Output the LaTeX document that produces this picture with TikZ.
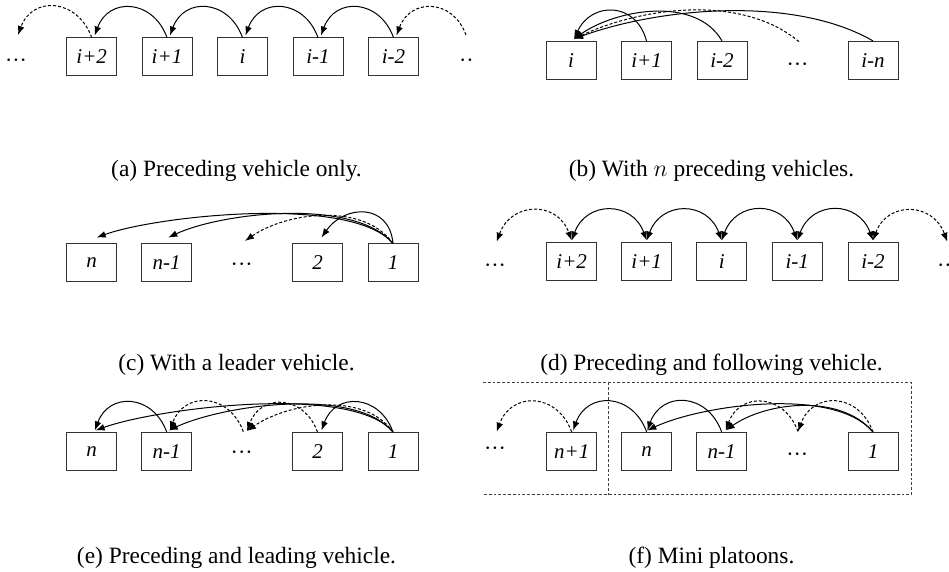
\documentclass[tikz,border=0pt]{standalone}
\usepackage{fontspec}
\setmainfont{Liberation Serif}
\usetikzlibrary{arrows.meta}
\newcommand{\midots}{\char"00B7\char"00B7\char"00B7}
\begin{document}
\begin{tikzpicture}[x=0.5pt,y=-0.5pt,
  veh/.style={draw=black!80, line width=0.5pt, minimum width=25pt, minimum height=19pt,
    inner sep=0pt, font=\fontsize{10.5}{12}\selectfont\itshape},
  gap/.style={anchor=base, inner sep=0pt, font=\fontsize{11}{12}\selectfont},
  subcap/.style={anchor=base, inner sep=0pt, font=\fontsize{11.7}{14}\selectfont},
  link/.style={line width=0.5pt, -{Latex[length=4.5pt,width=3.4pt]}},
  both/.style={line width=0.5pt, {Latex[length=4.5pt,width=3.4pt]}-{Latex[length=4.5pt,width=3.4pt]}},
  weak/.style={dash pattern=on 1.5pt off 1pt},
  hop/.style={out=110,in=70,looseness=1.45},
  hopr/.style={out=70,in=110,looseness=1.45},
  boxframe/.style={draw=black!75, line width=0.5pt, dash pattern=on 1.4pt off 1pt},
]
\useasboundingbox (0,0) rectangle (949,572);

% ---------- (a) preceding vehicle only ----------
\node[veh] (a1) at (91.7,57) {i+2};
\node[veh] (a2) at (167,57) {i+1};
\node[veh] (a3) at (242.5,57) {i};
\node[veh] (a4) at (318,57) {i-1};
\node[veh] (a5) at (393.5,57) {i-2};
\node[gap] (adl) at (16,68) {\midots};
\begin{scope}
  \clip (0,0) rectangle (475,120);
  \node[gap] (adr) at (470,68) {\midots};
\end{scope}
\coordinate (al) at (18,35);
\coordinate (ar) at (466,35);
\draw[link,weak] (a1.north) to[hop] (al);
\draw[link] (a2.north) to[hop] ([xshift=1.5pt,yshift=1pt]a1.north);
\draw[link] (a3.north) to[hop] ([xshift=1.5pt,yshift=1pt]a2.north);
\draw[link] (a4.north) to[hop] ([xshift=1.5pt,yshift=1pt]a3.north);
\draw[link] (a5.north) to[hop] ([xshift=1.5pt,yshift=1pt]a4.north);
\draw[link,weak] (ar) to[hop] ([xshift=1.5pt,yshift=1pt]a5.north);
\node[subcap] (capa) at (236.5,177) {(a) Preceding vehicle only.};

% ---------- (b) n preceding vehicles ----------
\node[veh] (b1) at (571,60.4) {i};
\node[veh] (b2) at (646.5,60.4) {i+1};
\node[veh] (b3) at (722,60.4) {i-2};
\node[gap] (bd) at (797.5,71.5) {\midots};
\node[veh] (b4) at (873,60.4) {i-n};
\coordinate (bdt) at (799,41.7);
\coordinate (bt) at ([xshift=1.5pt,yshift=1pt]b1.north);
\draw[link] (b2.north) to[out=105,in=65,looseness=1.45] (bt);
\draw[link] (b3.north) to[out=120,in=35,looseness=0.9] (bt);
\draw[link,weak] (bdt) to[out=140,in=25,looseness=0.85] (bt);
\draw[link] (b4.north) to[out=150,in=20,looseness=0.78] (bt);
\node[subcap] (capb) at (711.5,177) {(b) With $n$ preceding vehicles.};

% ---------- (c) leader vehicle ----------
\node[veh] (c1) at (91.7,263) {n};
\node[veh] (c2) at (166.7,263) {n-1};
\node[gap] (cd) at (241.7,272) {\midots};
\node[veh] (c3) at (317.5,263) {2};
\node[veh] (c4) at (393,263) {1};
\coordinate (cdt) at (245,241);
\draw[link] (c4.north) to[out=130,in=20,looseness=0.55] ([xshift=2.5pt,yshift=3pt]c1.north);
\draw[link] (c4.north) to[out=130,in=25,looseness=0.68] ([xshift=0.8pt,yshift=3pt]c2.north);
\draw[link,weak] (c4.north) to[out=125,in=35,looseness=0.87] (cdt);
\draw[link] (c4.north) to[out=95,in=55,looseness=1.45] ([xshift=2pt,yshift=3pt]c3.north);
\node[subcap] (capc) at (236.5,371) {(c) With a leader vehicle.};

% ---------- (d) preceding and following ----------
\node[veh] (d1) at (571.7,262) {i+2};
\node[veh] (d2) at (646.7,262) {i+1};
\node[veh] (d3) at (721.7,262) {i};
\node[veh] (d4) at (797.3,262) {i-1};
\node[veh] (d5) at (873,262) {i-2};
\node[gap] (ddl) at (495,273) {\midots};
\node[gap] (ddr) at (948,273) {\midots};
\coordinate (dl) at (496.7,241.7);
\coordinate (dr) at (947.3,241.7);
\draw[both,weak] (dl) to[hopr] ([yshift=1pt]d1.north);
\draw[both] ([yshift=1pt]d1.north) to[hopr] ([yshift=1pt]d2.north);
\draw[both] ([yshift=1pt]d2.north) to[hopr] ([yshift=1pt]d3.north);
\draw[both] ([yshift=1pt]d3.north) to[hopr] ([yshift=1pt]d4.north);
\draw[both] ([yshift=1pt]d4.north) to[hopr] ([yshift=1pt]d5.north);
\draw[both,weak] ([yshift=1pt]d5.north) to[hopr] (dr);
\node[subcap] (capd) at (711.5,371) {(d) Preceding and following vehicle.};

% ---------- (e) preceding and leading ----------
\node[veh] (e1) at (91.7,451.5) {n};
\node[veh] (e2) at (166.7,451.5) {n-1};
\node[gap] (ed) at (241.7,460) {\midots};
\node[veh] (e3) at (317.5,451.5) {2};
\node[veh] (e4) at (393,451.5) {1};
\coordinate (eds) at (243.3,431.7);
\coordinate (edt) at (247,431);
\draw[link] (e2.north) to[hop] ([xshift=1.6pt,yshift=0.8pt]e1.north);
\draw[link,weak] (eds) to[hop] ([xshift=1.6pt,yshift=0.8pt]e2.north);
\draw[link,weak] (e3.north) to[hop] (edt);
\draw[link] (e4.north) to[hop] ([xshift=2pt,yshift=0.8pt]e3.north);
\draw[link] (e4.north) to[out=130,in=20,looseness=0.55] ([xshift=2pt,yshift=0.8pt]e1.north);
\draw[link] (e4.north) to[out=130,in=25,looseness=0.68] ([xshift=1pt,yshift=0.8pt]e2.north);
\draw[link,weak] (e4.north) to[out=125,in=35,looseness=0.87] (edt);
\node[subcap] (cape) at (236.5,564) {(e) Preceding and leading vehicle.};

% ---------- (f) mini platoons ----------
\draw[boxframe] (483,382.5) -- (911,382.5) -- (911,495) -- (483,495);
\draw[boxframe] (608.5,382.5) -- (608.5,495);
\node[veh] (f1) at (571.7,451.5) {n+1};
\node[veh] (f2) at (646.7,451.5) {n};
\node[veh] (f3) at (721.7,451.5) {n-1};
\node[gap] (fd) at (797.3,461.5) {\midots};
\node[veh] (f4) at (873,451.5) {1};
\node[gap] (fdl) at (495,456) {\midots};
\coordinate (fl) at (496.7,431.7);
\coordinate (fdt) at (798,431.5);
\draw[link,weak] (f1.north) to[hop] (fl);
\draw[link] (f2.north) to[hop] ([xshift=0.7pt,yshift=0.8pt]f1.north);
\draw[link] (f3.north) to[hop] ([xshift=0.3pt,yshift=0.8pt]f2.north);
\draw[link,weak] (fdt) to[hop] ([xshift=2pt,yshift=0.8pt]f3.north);
\draw[link,weak] (f4.north) to[hop] (fdt);
\draw[link] (f4.north) to[out=130,in=25,looseness=0.68] ([xshift=0.3pt,yshift=0.8pt]f2.north);
\draw[link] (f4.north) to[out=130,in=35,looseness=0.87] ([xshift=2pt,yshift=0.8pt]f3.north);
\node[subcap] (capf) at (711.5,564) {(f) Mini platoons.};
\end{tikzpicture}
\end{document}
